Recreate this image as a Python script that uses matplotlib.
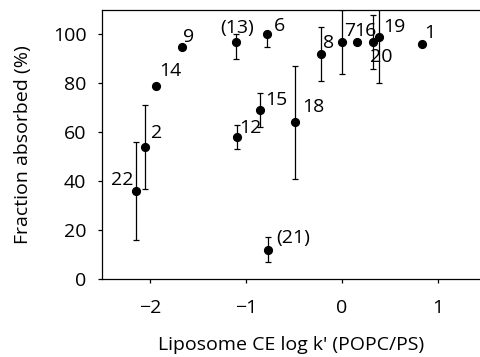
import numpy as np
import matplotlib
matplotlib.use("Agg")
import matplotlib.pyplot as plt

plt.rcParams["font.family"] = ["Open Sans", "DejaVu Sans"]

# compound labels, liposome CE log k', fraction absorbed (%), error bars
labels = ["22", "2", "14", "9", "(13)", "6", "12", "15", "18", "(21)",
          "8", "7", "16", "20", "19", "1"]
logk = [-2.15, -2.05, -1.94, -1.67, -1.10, -0.78, -1.09, -0.85, -0.49, -0.77,
        -0.22, 0.0, 0.16, 0.32, 0.385, 0.83]
absorbed = [36, 54, 79, 95, 97, 100, 58, 69, 64, 12,
            92, 97, 97, 97, 99, 96]
err_lo = [20, 17, 0, 0, 7, 5, 5, 7, 23, 5, 11, 13, 0, 11, 19, 0]
err_hi = [20, 17, 0, 0, 3, 1, 5, 7, 23, 5, 11, 13, 0, 11, 19, 0]
# label offsets in pixels (dx, dy up)
offs = [(-13, 11), (11, 14), (15, 15), (7, 10), (1, 14), (12, 8), (13, 9),
        (16, 10), (18, 15), (25, 12), (8, 11), (8, 11), (8, 11), (9, -15),
        (15, 10), (8, 11)]

fig = plt.figure(figsize=(4.81, 3.57), dpi=100)
ax = fig.add_axes([0.212, 0.2185, 0.788, 0.7535])

x = np.array(logk); y = np.array(absorbed)
lo = np.array(err_lo); hi = np.array(err_hi)
m = (lo + hi) > 0
ax.errorbar(x[m], y[m], yerr=[lo[m], hi[m]], fmt="none", ecolor="black",
            elinewidth=0.9, capsize=2.3, capthick=0.9)
ax.plot(x, y, "o", color="black", markersize=5.6, zorder=3)

for xi, yi, lab, (dx, dy) in zip(x, y, labels, offs):
    ax.annotate(lab, (xi, yi), xytext=(dx, dy), textcoords="offset pixels",
                ha="center", va="center", fontsize=14)

ax.set_xlim(-2.5, 1.448)
ax.set_ylim(0, 110)
ax.set_xticks([-2, -1, 0, 1])
ax.set_xticklabels(["\u22122", "\u22121", "0", "1"])
ax.set_yticks([0, 20, 40, 60, 80, 100])
ax.spines["right"].set_visible(False)
for s in ["left", "bottom", "top"]:
    ax.spines[s].set_linewidth(0.9)
ax.tick_params(direction="out", length=3.2, width=0.9, labelsize=14)
ax.tick_params(axis="x", pad=11)
ax.tick_params(axis="y", pad=8)
ax.set_xlabel("Liposome CE log k' (POPC/PS)", fontsize=14, labelpad=14)
ax.set_ylabel("Fraction absorbed (%)", fontsize=14, labelpad=15)

fig.savefig("out.png", dpi=100)
